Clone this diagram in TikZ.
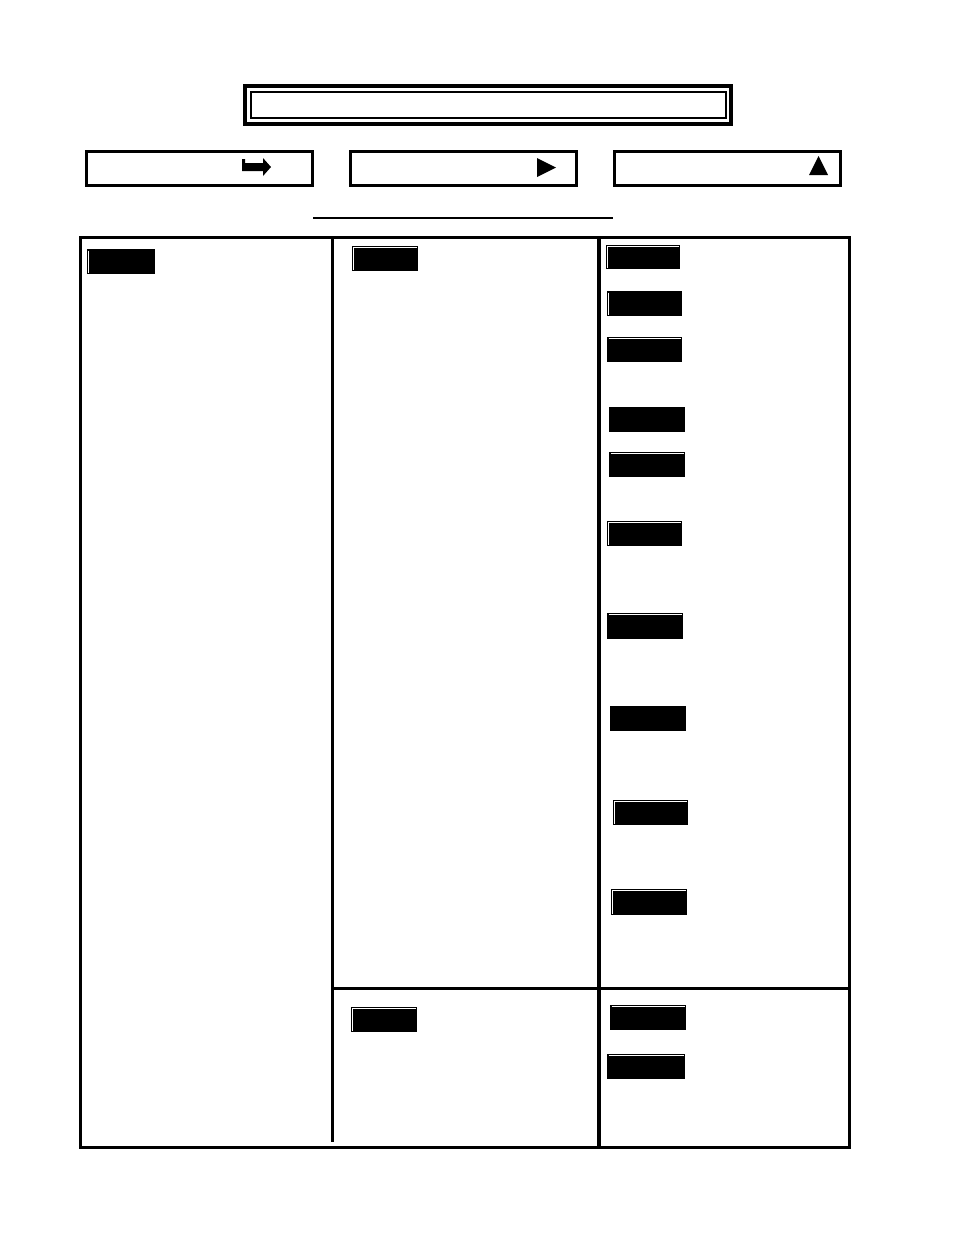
\documentclass[tikz,border=0pt]{standalone}
\usepackage{tikz}
\usetikzlibrary{positioning}

\tikzset{
  keybox/.style={fill=black, inner sep=0pt, anchor=north west, minimum width=75pt, minimum height=25pt},
  lit top/.style={path picture={\draw[white,line width=1pt] ([shift={(1.5pt,-1.5pt)}]path picture bounding box.north west) -- ([shift={(-1.5pt,-1.5pt)}]path picture bounding box.north east);}},
  lit left/.style={path picture={\draw[white,line width=1pt] ([shift={(1.5pt,-1.5pt)}]path picture bounding box.north west) -- ([shift={(1.5pt,1.5pt)}]path picture bounding box.south west);}},
  lit both/.style={path picture={\draw[white,line width=1pt] ([shift={(1.5pt,1.5pt)}]path picture bounding box.south west) -- ([shift={(1.5pt,-1.5pt)}]path picture bounding box.north west) -- ([shift={(-1.5pt,-1.5pt)}]path picture bounding box.north east);}},
  headbox/.style={draw, line width=3pt, inner sep=0pt, anchor=north west, minimum width=226pt, minimum height=34pt},
  rule/.style={line width=3pt}
}

\begin{document}
\begin{tikzpicture}[x=1pt,y=-1pt]
	    \useasboundingbox (0,0) rectangle (954,1235);

	    % title
	    \node (title) [draw, line width=4pt, inner sep=0pt, anchor=north west, minimum width=486pt, minimum height=38pt] at (243,84) {};
	    \node (titlein) [draw, line width=2pt, inner sep=0pt, minimum width=475pt, minimum height=26pt] at (title.center) {};

	    % three headings
	    \node (headA) [headbox] at (85,150) {};
	    \node (headB) [headbox] at (349,150) {};
	    \node (headC) [headbox] at (613,150) {};
	    \fill (242,159) -- (245,159) -- (245,163) -- (263,163) -- (263,158) -- (271,167) -- (263,176) -- (263,171) -- (242,171) -- cycle;
	    \fill (537,158) -- (556,167.5) -- (537,177) -- cycle;
	    \fill (809,175) -- (818.5,156) -- (828,175) -- cycle;

	    \coordinate (ulA) at (313,218);
	    \coordinate (ulB) at (613,218);
	    \draw[line width=1.5pt] (ulA) -- (ulB);

	    % table
	    \coordinate (tNW) at (80,237);
	    \coordinate (tSE) at (849,1147);
	    \coordinate (v1t) at (332,237);
	    \coordinate (v1b) at (332,1142);
	    \coordinate (v2t) at (599,237);
	    \coordinate (v2b) at (599,1147);
	    \coordinate (hl) at (332,988);
	    \coordinate (hr) at (849,988);
	    \draw[rule] (tNW) rectangle (tSE);
	    \draw[rule] (v1t) -- (v1b);
	    \draw[line width=4pt] (v2t) -- (v2b);
	    \draw[rule] (hl) -- (hr);

	    % first column
	    \node (a1) [keybox, lit left, minimum width=68pt] at (87,249) {};

	    % second column
	    \node (b1) [keybox, lit both, minimum width=66pt] at (352,246) {};
	    \node (b2) [keybox, lit both, minimum width=66pt] at (351,1007) {};

	    % third column
	    \node (c1) [keybox, lit both, minimum width=74pt, minimum height=24pt] at (606,245) {};
	    \node (c2) [keybox, lit left] at (607,291) {};
	    \node (c3) [keybox, lit top] at (607,337) {};
	    \node (c4) [keybox, minimum width=76pt] at (609,407) {};
	    \node (c5) [keybox, lit top, minimum width=76pt] at (609,452) {};
	    \node (c6) [keybox, lit both] at (607,521) {};
	    \node (c7) [keybox, lit top, minimum width=76pt, minimum height=26pt] at (607,613) {};
	    \node (c8) [keybox, minimum width=76pt] at (610,706) {};
	    \node (c9) [keybox, lit both] at (613,800) {};
	    \node (c10) [keybox, lit both, minimum width=76pt, minimum height=26pt] at (611,889) {};
	    \node (c11) [keybox, lit top, minimum width=76pt] at (610,1005) {};
	    \node (c12) [keybox, lit top, minimum width=78pt] at (607,1054) {};
\end{tikzpicture}
\end{document}
